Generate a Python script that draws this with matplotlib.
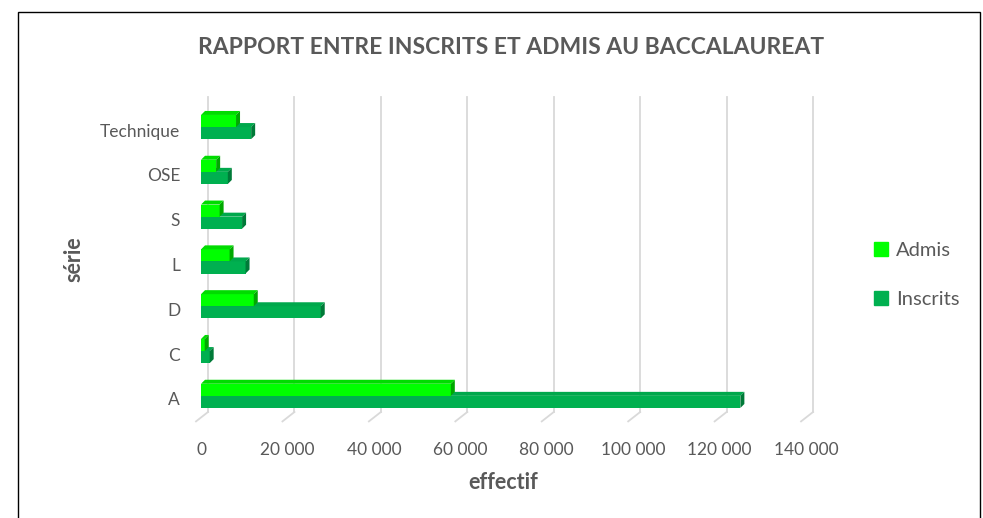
import numpy as np
import matplotlib
matplotlib.use("Agg")
import matplotlib.pyplot as plt
import matplotlib.transforms as mtransforms
from matplotlib.patches import Polygon, Rectangle

plt.rcParams['font.family'] = ['Lato', 'DejaVu Sans']

series = ["A", "C", "D", "L", "S", "OSE", "Technique"]
admis = [57800, 850, 12200, 6600, 4300, 3500, 8100]
inscrits = [124800, 2000, 27700, 10300, 9500, 6200, 11600]
xticks = [0, 20000, 40000, 60000, 80000, 100000, 120000, 140000]
xtick_labels = ["0", "20 000", "40 000", "60 000", "80 000", "100 000", "120 000", "140 000"]

grey = "#595959"
c_admis = ("#00FF00", "#00DC00", "#00A800")      # front, top, side
c_inscr = ("#00B050", "#00A84C", "#007A38")

fig = plt.figure(figsize=(9.83, 5.18), dpi=100)
fig.patches.append(Rectangle((18 / 983, -0.01), 962 / 983, 1 - 12 / 518 + 0.01,
                             transform=fig.transFigure, fill=False,
                             edgecolor="black", linewidth=1.0))

ax = fig.add_axes([0.2045, 0.1865, 0.6155, 0.6253])
ax.set_xlim(0, 140000)
ax.set_ylim(-0.5, 6.73)


def px(dx, dy):
    return mtransforms.ScaledTranslation(dx / 100, dy / 100, fig.dpi_scale_trans)


# gridlines at the back wall + floor segments toward the front
blend = mtransforms.blended_transform_factory(ax.transData, ax.transAxes)
inv = ax.transData.inverted()
for v in xticks:
    ax.plot([v, v], [0.029, 1.0], color="#d9d9d9", lw=1.3,
            transform=blend + px(7, 0), clip_on=False, zorder=0)
    p0 = (blend + px(7, 0)).transform((v, 0.029))
    p1 = (blend + px(-5, 0)).transform((v, 0.0))
    d0, d1 = inv.transform(p0), inv.transform(p1)
    ax.plot([d0[0], d1[0]], [d0[1], d1[1]], color="#d9d9d9", lw=1.3,
            clip_on=False, zorder=0)

y = np.arange(len(series))
h = 0.27
base = 0.07
ddx = 4 * 140000 / 605
ddy = 4 / 44.8


def bar3d(x, y0, hh, cols):
    ax.barh(y0, x, height=hh, align="edge", color=cols[0], linewidth=0, zorder=2)
    top = y0 + hh
    ax.add_patch(Polygon([(0, top), (x, top), (x + ddx, top + ddy), (ddx, top + ddy)],
                         closed=True, facecolor=cols[1], edgecolor="none", zorder=2))
    ax.add_patch(Polygon([(x, y0), (x + ddx, y0 + ddy), (x + ddx, top + ddy), (x, top)],
                         closed=True, facecolor=cols[2], edgecolor="none", zorder=2))


for i in range(len(series)):
    bar3d(inscrits[i], y[i] + base - h, h, c_inscr)
    bar3d(admis[i], y[i] + base, h, c_admis)

ax.set_yticks(y)
ax.set_yticklabels(series)
ax.set_xticks(xticks)
ax.set_xticklabels(xtick_labels)
ax.tick_params(length=0, colors=grey, labelsize=12.5)
ax.tick_params(axis="x", pad=15)
ax.tick_params(axis="y", pad=15)
for s in ax.spines.values():
    s.set_visible(False)

ax.set_xlabel("effectif", color=grey, fontsize=15.5, fontweight="bold", labelpad=10)
ax.set_ylabel("série", color=grey, fontsize=15.5, fontweight="bold", labelpad=11)

fig.text(511 / 983, 1 - 47 / 518, "RAPPORT ENTRE INSCRITS ET ADMIS AU BACCALAUREAT",
         ha="center", va="center", color=grey, fontsize=16.5, fontweight="bold")

handles = [Rectangle((0, 0), 1, 1, color=c_admis[0]), Rectangle((0, 0), 1, 1, color=c_inscr[0])]
fig.legend(handles, ["Admis", "Inscrits"], loc="center left",
           bbox_to_anchor=(856 / 983, 1 - 275 / 518), frameon=False,
           fontsize=14.5, labelcolor=grey, handlelength=0.7, handleheight=0.7,
           handletextpad=0.4, labelspacing=1.6)

fig.savefig("out.png", dpi=100)
